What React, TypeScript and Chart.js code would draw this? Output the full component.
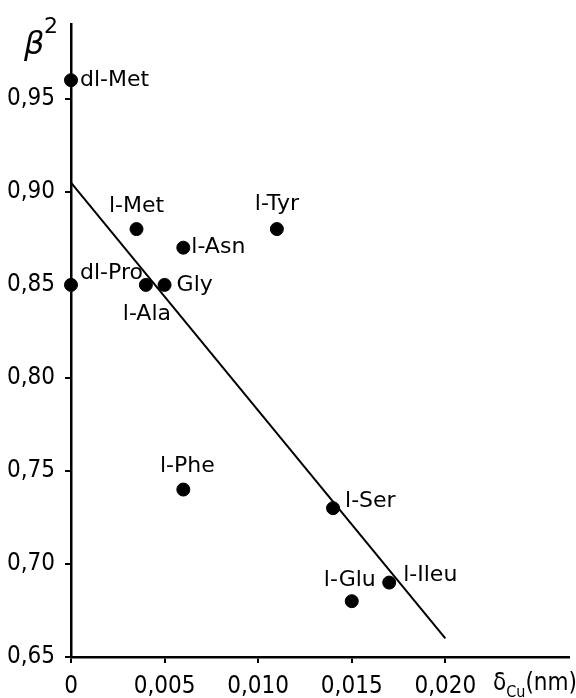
import React, { useEffect, useRef } from "react";
import { Chart, registerables } from "chart.js";

Chart.register(...registerables);

// Data
const names = ["dl-Met", "l-Met", "l-Asn", "dl-Pro", "l-Ala", "Gly", "l-Tyr", "l-Phe", "l-Ser", "l-Glu", "l-Ileu"];
const deltaCu = [0, 0.0035, 0.006, 0, 0.004, 0.005, 0.011, 0.006, 0.014, 0.015, 0.017];
const beta2 = [0.96, 0.88, 0.87, 0.85, 0.85, 0.85, 0.88, 0.74, 0.73, 0.68, 0.69];
const fitX = [0, 0.02];
const fitY = [0.905, 0.66];
const xTicks = [0, 0.005, 0.01, 0.015, 0.02];
const xTickLabels = ["0", "0,005", "0,010", "0,015", "0,020"];
const yTicks = [0.65, 0.7, 0.75, 0.8, 0.85, 0.9, 0.95];
const yTickLabels = ["0,65", "0,70", "0,75", "0,80", "0,85", "0,90", "0,95"];

// Label placement (layout only)
const labelPlacement: Record<string, { dx: number; dy: number; align: CanvasTextAlign }> = {
  "dl-Met": { dx: 9, dy: 0, align: "left" },
  "l-Met": { dx: 0, dy: -23, align: "center" },
  "l-Asn": { dx: 8, dy: 0, align: "left" },
  "dl-Pro": { dx: 9, dy: -12, align: "left" },
  "l-Ala": { dx: 1, dy: 29, align: "center" },
  Gly: { dx: 12, dy: 0, align: "left" },
  "l-Tyr": { dx: 0, dy: -25, align: "center" },
  "l-Phe": { dx: 4, dy: -23, align: "center" },
  "l-Ser": { dx: 12, dy: -7, align: "left" },
  "l-Glu": { dx: -2, dy: -21, align: "center" },
  "l-Ileu": { dx: 14, dy: -7, align: "left" },
};

const TICK_FONT = "'Liberation Sans Narrow', 'DejaVu Sans Condensed', 'Liberation Sans', sans-serif";
const LABEL_FONT = "'DejaVu Sans', sans-serif";

const labelsPlugin = {
  id: "pointLabels",
  afterDatasetsDraw(chart: any) {
    const ctx = chart.ctx;
    const xs = chart.scales.x;
    const ys = chart.scales.y;
    ctx.save();
    ctx.fillStyle = "#000";
    ctx.font = `22px ${LABEL_FONT}`;
    ctx.textBaseline = "middle";
    names.forEach((n, i) => {
      const p = labelPlacement[n];
      const px = xs.getPixelForValue(deltaCu[i]);
      const py = ys.getPixelForValue(beta2[i]);
      ctx.textAlign = p.align;
      ctx.fillText(n, px + p.dx, py + p.dy);
    });
    // axis titles
    ctx.textAlign = "left";
    ctx.textBaseline = "alphabetic";
    ctx.font = `italic 32px ${LABEL_FONT}`;
    ctx.fillText("β", 24, 54);
    ctx.font = `22px ${LABEL_FONT}`;
    ctx.fillText("2", 44, 33);
    let x0 = 493;
    ctx.font = `24px ${TICK_FONT}`;
    ctx.fillText("δ", x0, 690);
    x0 += ctx.measureText("δ").width;
    ctx.font = `16px ${TICK_FONT}`;
    ctx.fillText("Cu", x0, 697);
    x0 += ctx.measureText("Cu").width;
    ctx.font = `24px ${TICK_FONT}`;
    ctx.fillText("(nm)", x0, 690);
    ctx.restore();
  },
};

export default function App() {
  const ref = useRef<HTMLCanvasElement>(null);
  useEffect(() => {
    document.body.style.margin = "0";
    const canvas = ref.current!;
    const chart = new Chart(canvas, {
      type: "scatter",
      data: {
        datasets: [
          {
            type: "scatter",
            data: deltaCu.map((x, i) => ({ x, y: beta2[i] })),
            backgroundColor: "#000",
            borderColor: "#000",
            pointRadius: 6.5,
            clip: false,
          } as any,
          {
            type: "line",
            data: fitX.map((x, i) => ({ x, y: fitY[i] })),
            borderColor: "#000",
            borderWidth: 2,
            pointRadius: 0,
            fill: false,
            clip: false,
          } as any,
        ],
      },
      options: {
        animation: false,
        responsive: false,
        maintainAspectRatio: false,
        layout: { padding: { top: 13, right: 0, left: 0, bottom: 0 } },
        plugins: { legend: { display: false }, tooltip: { enabled: false } },
        scales: {
          x: {
            type: "linear",
            min: 0,
            max: 0.02658,
            afterBuildTicks: (s: any) => {
              s.ticks = xTicks.map((v) => ({ value: v }));
            },
            afterFit: (s: any) => {
              s.height = 41;
            },
            ticks: {
              color: "#000",
              font: { family: TICK_FONT, size: 24 },
              padding: 9,
              maxRotation: 0,
              autoSkip: false,
              callback: (v: any) => {
                const i = xTicks.findIndex((t) => Math.abs(t - v) < 1e-9);
                return i >= 0 ? xTickLabels[i] : "";
              },
            },
            grid: { display: true, drawOnChartArea: false, drawTicks: true, tickLength: 6, color: "#000", lineWidth: 2 },
            border: { display: true, color: "#000", width: 2.5 },
          },
          y: {
            type: "linear",
            min: 0.65,
            max: 0.99,
            afterBuildTicks: (s: any) => {
              s.ticks = yTicks.map((v) => ({ value: v }));
            },
            afterFit: (s: any) => {
              s.width = 71;
            },
            ticks: {
              color: "#000",
              font: { family: TICK_FONT, size: 24 },
              padding: 10,
              autoSkip: false,
              callback: (v: any) => {
                const i = yTicks.findIndex((t) => Math.abs(t - v) < 1e-9);
                return i >= 0 ? yTickLabels[i] : "";
              },
            },
            grid: { display: true, drawOnChartArea: false, drawTicks: true, tickLength: 6, color: "#000", lineWidth: 2 },
            border: { display: true, color: "#000", width: 2.5 },
          },
        },
      },
      plugins: [labelsPlugin],
    });
    return () => chart.destroy();
  }, []);
  return (
    <div style={{ width: 576, height: 698, background: "#fff" }}>
      <canvas ref={ref} width={576} height={698} style={{ display: "block" }} />
    </div>
  );
}
